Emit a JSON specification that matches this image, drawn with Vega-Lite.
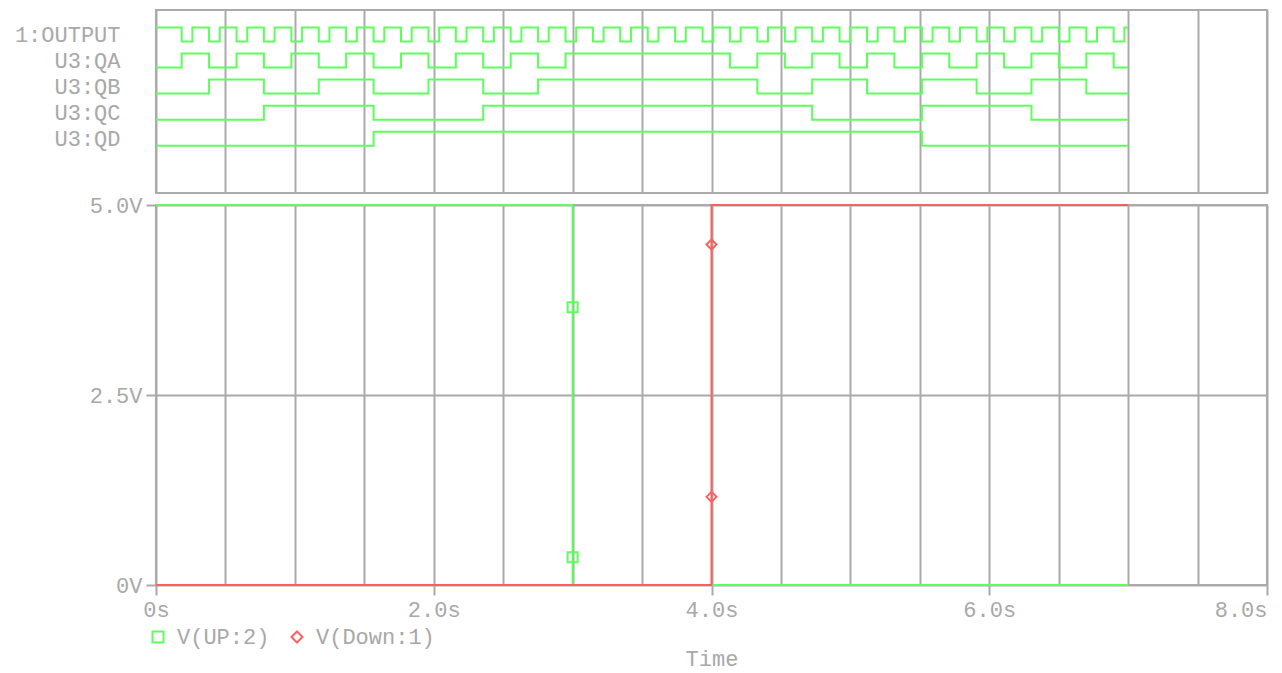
{
  "$schema": "https://vega.github.io/schema/vega-lite/v6.json",
  "background": "white",
  "padding": {"left": 13, "top": 9, "right": 14, "bottom": 0},
  "config": {
    "view": {"stroke": "#aaaaaa", "strokeWidth": 2},
    "font": "Liberation Mono",
    "axis": {
      "labelFont": "Liberation Mono", "labelFontSize": 22, "labelColor": "#a8a8a8",
      "titleFont": "Liberation Mono", "titleFontSize": 22, "titleColor": "#a8a8a8", "titleFontWeight": "normal",
      "gridColor": "#aaaaaa", "gridWidth": 2, "gridOpacity": 1,
      "tickColor": "#aaaaaa", "tickWidth": 2, "domain": false, "labelFlush": false
    },
    "legend": {
      "labelFont": "Liberation Mono", "labelFontSize": 22, "labelColor": "#a8a8a8"
    }
  },
  "spacing": 12,
  "bounds": "flush",
  "resolve": {"scale": {"x": "independent", "y": "independent"}},
  "datasets": {
    "digital": [
      {"sig": "1:OUTPUT", "t": 0, "v": 1},
      {"sig": "1:OUTPUT", "t": 0.185, "v": 0}, {"sig": "1:OUTPUT", "t": 0.262, "v": 1},
      {"sig": "1:OUTPUT", "t": 0.382, "v": 0}, {"sig": "1:OUTPUT", "t": 0.459, "v": 1},
      {"sig": "1:OUTPUT", "t": 0.580, "v": 0}, {"sig": "1:OUTPUT", "t": 0.657, "v": 1},
      {"sig": "1:OUTPUT", "t": 0.777, "v": 0}, {"sig": "1:OUTPUT", "t": 0.854, "v": 1},
      {"sig": "1:OUTPUT", "t": 0.975, "v": 0}, {"sig": "1:OUTPUT", "t": 1.052, "v": 1},
      {"sig": "1:OUTPUT", "t": 1.172, "v": 0}, {"sig": "1:OUTPUT", "t": 1.249, "v": 1},
      {"sig": "1:OUTPUT", "t": 1.369, "v": 0}, {"sig": "1:OUTPUT", "t": 1.446, "v": 1},
      {"sig": "1:OUTPUT", "t": 1.567, "v": 0}, {"sig": "1:OUTPUT", "t": 1.644, "v": 1},
      {"sig": "1:OUTPUT", "t": 1.764, "v": 0}, {"sig": "1:OUTPUT", "t": 1.841, "v": 1},
      {"sig": "1:OUTPUT", "t": 1.962, "v": 0}, {"sig": "1:OUTPUT", "t": 2.039, "v": 1},
      {"sig": "1:OUTPUT", "t": 2.159, "v": 0}, {"sig": "1:OUTPUT", "t": 2.236, "v": 1},
      {"sig": "1:OUTPUT", "t": 2.356, "v": 0}, {"sig": "1:OUTPUT", "t": 2.433, "v": 1},
      {"sig": "1:OUTPUT", "t": 2.554, "v": 0}, {"sig": "1:OUTPUT", "t": 2.631, "v": 1},
      {"sig": "1:OUTPUT", "t": 2.751, "v": 0}, {"sig": "1:OUTPUT", "t": 2.828, "v": 1},
      {"sig": "1:OUTPUT", "t": 2.949, "v": 0}, {"sig": "1:OUTPUT", "t": 3.026, "v": 1},
      {"sig": "1:OUTPUT", "t": 3.146, "v": 0}, {"sig": "1:OUTPUT", "t": 3.223, "v": 1},
      {"sig": "1:OUTPUT", "t": 3.343, "v": 0}, {"sig": "1:OUTPUT", "t": 3.420, "v": 1},
      {"sig": "1:OUTPUT", "t": 3.541, "v": 0}, {"sig": "1:OUTPUT", "t": 3.618, "v": 1},
      {"sig": "1:OUTPUT", "t": 3.738, "v": 0}, {"sig": "1:OUTPUT", "t": 3.815, "v": 1},
      {"sig": "1:OUTPUT", "t": 3.936, "v": 0}, {"sig": "1:OUTPUT", "t": 4.013, "v": 1},
      {"sig": "1:OUTPUT", "t": 4.133, "v": 0}, {"sig": "1:OUTPUT", "t": 4.210, "v": 1},
      {"sig": "1:OUTPUT", "t": 4.330, "v": 0}, {"sig": "1:OUTPUT", "t": 4.407, "v": 1},
      {"sig": "1:OUTPUT", "t": 4.528, "v": 0}, {"sig": "1:OUTPUT", "t": 4.605, "v": 1},
      {"sig": "1:OUTPUT", "t": 4.725, "v": 0}, {"sig": "1:OUTPUT", "t": 4.802, "v": 1},
      {"sig": "1:OUTPUT", "t": 4.922, "v": 0}, {"sig": "1:OUTPUT", "t": 4.999, "v": 1},
      {"sig": "1:OUTPUT", "t": 5.120, "v": 0}, {"sig": "1:OUTPUT", "t": 5.197, "v": 1},
      {"sig": "1:OUTPUT", "t": 5.317, "v": 0}, {"sig": "1:OUTPUT", "t": 5.394, "v": 1},
      {"sig": "1:OUTPUT", "t": 5.515, "v": 0}, {"sig": "1:OUTPUT", "t": 5.592, "v": 1},
      {"sig": "1:OUTPUT", "t": 5.712, "v": 0}, {"sig": "1:OUTPUT", "t": 5.789, "v": 1},
      {"sig": "1:OUTPUT", "t": 5.909, "v": 0}, {"sig": "1:OUTPUT", "t": 5.986, "v": 1},
      {"sig": "1:OUTPUT", "t": 6.107, "v": 0}, {"sig": "1:OUTPUT", "t": 6.184, "v": 1},
      {"sig": "1:OUTPUT", "t": 6.304, "v": 0}, {"sig": "1:OUTPUT", "t": 6.381, "v": 1},
      {"sig": "1:OUTPUT", "t": 6.501, "v": 0}, {"sig": "1:OUTPUT", "t": 6.578, "v": 1},
      {"sig": "1:OUTPUT", "t": 6.699, "v": 0}, {"sig": "1:OUTPUT", "t": 6.776, "v": 1},
      {"sig": "1:OUTPUT", "t": 6.896, "v": 0}, {"sig": "1:OUTPUT", "t": 6.973, "v": 1},
      {"sig": "1:OUTPUT", "t": 7.0, "v": 1},

      {"sig": "U3:QA", "t": 0, "v": 0},
      {"sig": "U3:QA", "t": 0.185, "v": 1}, {"sig": "U3:QA", "t": 0.382, "v": 0},
      {"sig": "U3:QA", "t": 0.580, "v": 1}, {"sig": "U3:QA", "t": 0.777, "v": 0},
      {"sig": "U3:QA", "t": 0.975, "v": 1}, {"sig": "U3:QA", "t": 1.172, "v": 0},
      {"sig": "U3:QA", "t": 1.369, "v": 1}, {"sig": "U3:QA", "t": 1.567, "v": 0},
      {"sig": "U3:QA", "t": 1.764, "v": 1}, {"sig": "U3:QA", "t": 1.962, "v": 0},
      {"sig": "U3:QA", "t": 2.159, "v": 1}, {"sig": "U3:QA", "t": 2.356, "v": 0},
      {"sig": "U3:QA", "t": 2.554, "v": 1}, {"sig": "U3:QA", "t": 2.751, "v": 0},
      {"sig": "U3:QA", "t": 2.949, "v": 1}, {"sig": "U3:QA", "t": 4.133, "v": 0},
      {"sig": "U3:QA", "t": 4.330, "v": 1}, {"sig": "U3:QA", "t": 4.528, "v": 0},
      {"sig": "U3:QA", "t": 4.725, "v": 1}, {"sig": "U3:QA", "t": 4.922, "v": 0},
      {"sig": "U3:QA", "t": 5.120, "v": 1}, {"sig": "U3:QA", "t": 5.317, "v": 0},
      {"sig": "U3:QA", "t": 5.515, "v": 1}, {"sig": "U3:QA", "t": 5.712, "v": 0},
      {"sig": "U3:QA", "t": 5.909, "v": 1}, {"sig": "U3:QA", "t": 6.107, "v": 0},
      {"sig": "U3:QA", "t": 6.304, "v": 1}, {"sig": "U3:QA", "t": 6.501, "v": 0},
      {"sig": "U3:QA", "t": 6.699, "v": 1}, {"sig": "U3:QA", "t": 6.896, "v": 0},
      {"sig": "U3:QA", "t": 7.0, "v": 0},

      {"sig": "U3:QB", "t": 0, "v": 0},
      {"sig": "U3:QB", "t": 0.382, "v": 1}, {"sig": "U3:QB", "t": 0.777, "v": 0},
      {"sig": "U3:QB", "t": 1.172, "v": 1}, {"sig": "U3:QB", "t": 1.567, "v": 0},
      {"sig": "U3:QB", "t": 1.962, "v": 1}, {"sig": "U3:QB", "t": 2.356, "v": 0},
      {"sig": "U3:QB", "t": 2.751, "v": 1}, {"sig": "U3:QB", "t": 4.330, "v": 0},
      {"sig": "U3:QB", "t": 4.725, "v": 1}, {"sig": "U3:QB", "t": 5.120, "v": 0},
      {"sig": "U3:QB", "t": 5.515, "v": 1}, {"sig": "U3:QB", "t": 5.909, "v": 0},
      {"sig": "U3:QB", "t": 6.304, "v": 1}, {"sig": "U3:QB", "t": 6.699, "v": 0},
      {"sig": "U3:QB", "t": 7.0, "v": 0},

      {"sig": "U3:QC", "t": 0, "v": 0},
      {"sig": "U3:QC", "t": 0.777, "v": 1}, {"sig": "U3:QC", "t": 1.567, "v": 0},
      {"sig": "U3:QC", "t": 2.356, "v": 1}, {"sig": "U3:QC", "t": 4.725, "v": 0},
      {"sig": "U3:QC", "t": 5.515, "v": 1}, {"sig": "U3:QC", "t": 6.304, "v": 0},
      {"sig": "U3:QC", "t": 7.0, "v": 0},

      {"sig": "U3:QD", "t": 0, "v": 0},
      {"sig": "U3:QD", "t": 1.567, "v": 1}, {"sig": "U3:QD", "t": 5.515, "v": 0},
      {"sig": "U3:QD", "t": 7.0, "v": 0}
    ],
    "analog": [
      {"series": "V(UP:2)", "t": 0, "v": 5},
      {"series": "V(UP:2)", "t": 3.0, "v": 0},
      {"series": "V(UP:2)", "t": 7.0, "v": 0},
      {"series": "V(Down:1)", "t": 0, "v": 0},
      {"series": "V(Down:1)", "t": 4.0, "v": 5},
      {"series": "V(Down:1)", "t": 7.0, "v": 5}
    ],
    "markers": [
      {"series": "V(UP:2)", "t": 3.0, "v": 3.655},
      {"series": "V(UP:2)", "t": 3.0, "v": 0.365},
      {"series": "V(Down:1)", "t": 4.0, "v": 4.48},
      {"series": "V(Down:1)", "t": 4.0, "v": 1.16}
    ]
  },
  "vconcat": [
    {
      "width": 1111,
      "height": 183,
      "data": {"name": "digital"},
      "resolve": {"scale": {"y": "independent"}, "axis": {"y": "independent"}},
      "encoding": {
        "x": {
          "field": "t", "type": "quantitative",
          "scale": {"domain": [0, 8], "nice": false, "zero": false},
          "axis": {
            "values": [0, 0.5, 1, 1.5, 2, 2.5, 3, 3.5, 4, 4.5, 5, 5.5, 6, 6.5, 7, 7.5, 8],
            "labels": false, "ticks": false, "domain": false, "grid": true, "title": null
          }
        }
      },
      "layer": [
        {
          "transform": [{"filter": "datum.sig === '1:OUTPUT'"}],
          "mark": {"type": "line", "interpolate": "step-after", "color": "#5cff5c", "strokeWidth": 2},
          "encoding": {
            "y": {
              "field": "v", "type": "quantitative",
              "scale": {"domain": [-10.829, 2.243], "nice": false, "zero": false},
              "axis": {"orient": "left", "values": [0.5], "labelExpr": "'1:OUTPUT'", "ticks": false, "grid": false, "domain": false, "title": null, "labelPadding": 36, "labelBaseline": "middle"}
            }
          }
        },
        {
          "transform": [{"filter": "datum.sig === 'U3:QA'"}],
          "mark": {"type": "line", "interpolate": "step-after", "color": "#5cff5c", "strokeWidth": 2},
          "encoding": {
            "y": {
              "field": "v", "type": "quantitative",
              "scale": {"domain": [0, 1], "range": [57.5, 43.5]},
              "axis": {"orient": "left", "values": [0.5], "labelExpr": "'U3:QA'", "ticks": false, "grid": false, "domain": false, "title": null, "labelPadding": 36, "labelBaseline": "middle"}
            }
          }
        },
        {
          "transform": [{"filter": "datum.sig === 'U3:QB'"}],
          "mark": {"type": "line", "interpolate": "step-after", "color": "#5cff5c", "strokeWidth": 2},
          "encoding": {
            "y": {
              "field": "v", "type": "quantitative",
              "scale": {"domain": [0, 1], "range": [83.6, 69.6]},
              "axis": {"orient": "left", "values": [0.5], "labelExpr": "'U3:QB'", "ticks": false, "grid": false, "domain": false, "title": null, "labelPadding": 36, "labelBaseline": "middle"}
            }
          }
        },
        {
          "transform": [{"filter": "datum.sig === 'U3:QC'"}],
          "mark": {"type": "line", "interpolate": "step-after", "color": "#5cff5c", "strokeWidth": 2},
          "encoding": {
            "y": {
              "field": "v", "type": "quantitative",
              "scale": {"domain": [0, 1], "range": [109.7, 95.7]},
              "axis": {"orient": "left", "values": [0.5], "labelExpr": "'U3:QC'", "ticks": false, "grid": false, "domain": false, "title": null, "labelPadding": 36, "labelBaseline": "middle"}
            }
          }
        },
        {
          "transform": [{"filter": "datum.sig === 'U3:QD'"}],
          "mark": {"type": "line", "interpolate": "step-after", "color": "#5cff5c", "strokeWidth": 2},
          "encoding": {
            "y": {
              "field": "v", "type": "quantitative",
              "scale": {"domain": [0, 1], "range": [135.8, 121.8]},
              "axis": {"orient": "left", "values": [0.5], "labelExpr": "'U3:QD'", "ticks": false, "grid": false, "domain": false, "title": null, "labelPadding": 36, "labelBaseline": "middle"}
            }
          }
        }
      ]
    },
    {
      "width": 1111,
      "height": 380,
      "encoding": {
        "x": {
          "field": "t", "type": "quantitative",
          "scale": {"domain": [0, 8], "nice": false, "zero": false},
          "axis": {
            "values": [0, 0.5, 1, 1.5, 2, 2.5, 3, 3.5, 4, 4.5, 5, 5.5, 6, 6.5, 7, 7.5, 8],
            "grid": true, "ticks": true, "tickSize": 10, "domain": false,
            "tickOpacity": {"condition": {"test": "datum.value % 2 === 0", "value": 1}, "value": 0},
            "labelExpr": "datum.value % 2 === 0 ? (datum.value === 0 ? '0s' : format(datum.value, '.1f') + 's') : ''",
            "labelAlign": {"condition": {"test": "datum.value === 8", "value": "right"}, "value": "center"},
            "labelOverlap": false, "labelPadding": 4,
            "title": "Time", "titlePadding": 28
          }
        },
        "y": {
          "field": "v", "type": "quantitative",
          "scale": {"domain": [0, 5], "nice": false},
          "axis": {
            "values": [0, 2.5, 5],
            "grid": true, "ticks": true, "tickSize": 10, "domain": false,
            "labelExpr": "datum.value === 0 ? '0V' : format(datum.value, '.1f') + 'V'",
            "labelPadding": 4, "labelBaseline": "middle",
            "title": null
          }
        }
      },
      "layer": [
        {
          "data": {"name": "analog"},
          "transform": [{"filter": "datum.series === 'V(UP:2)'"}],
          "mark": {"type": "line", "interpolate": "step-after", "color": "#5cff5c", "strokeWidth": 2}
        },
        {
          "data": {"name": "analog"},
          "transform": [{"filter": "datum.series === 'V(Down:1)'"}],
          "mark": {"type": "line", "interpolate": "step-after", "color": "#ff5f5f", "strokeWidth": 2}
        },
        {
          "data": {"name": "markers"},
          "mark": {"type": "point", "filled": false, "size": 100, "strokeWidth": 2, "opacity": 1},
          "encoding": {
            "color": {
              "field": "series", "type": "nominal",
              "scale": {"domain": ["V(UP:2)", "V(Down:1)"], "range": ["#5cff5c", "#ff5f5f"]},
              "legend": {
                "orient": "none", "legendX": -9, "legendY": 616, "direction": "horizontal",
                "title": null, "symbolSize": 121, "symbolStrokeWidth": 2,
                "labelOffset": 8, "columnPadding": 16, "padding": 0
              }
            },
            "shape": {
              "field": "series", "type": "nominal",
              "scale": {"domain": ["V(UP:2)", "V(Down:1)"], "range": ["square", "diamond"]},
              "legend": {
                "orient": "none", "legendX": -9, "legendY": 616, "direction": "horizontal",
                "title": null, "symbolSize": 121, "symbolStrokeWidth": 2,
                "labelOffset": 8, "columnPadding": 16, "padding": 0
              }
            }
          }
        }
      ]
    }
  ]
}
